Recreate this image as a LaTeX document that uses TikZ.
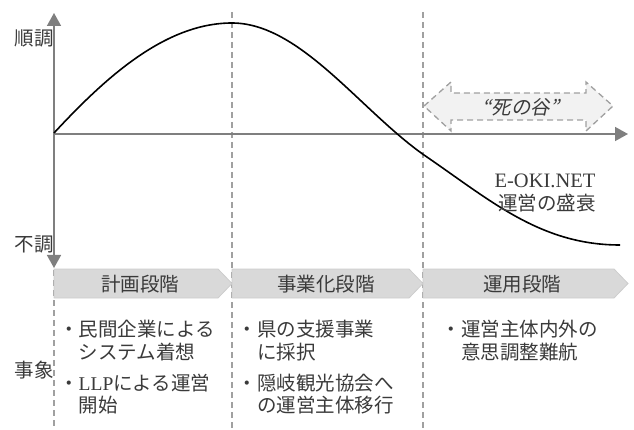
\documentclass[tikz,border=0pt]{standalone}
\usepackage{fontspec}
\setmainfont{Liberation Serif}
\newfontfamily\jp{Noto Sans CJK JP}
\newfontfamily\jpit[FakeSlant=0.2]{Noto Sans CJK JP}
\usetikzlibrary{arrows.meta}
\definecolor{axisgray}{HTML}{7F7F7F}
\definecolor{dashgray}{HTML}{A0A0A0}
\definecolor{bannerfill}{HTML}{D9D9D9}
\definecolor{bannerdraw}{HTML}{CDCDCD}
\definecolor{valleyfill}{HTML}{F2F2F2}
\definecolor{txt}{HTML}{3A3A3A}
\newcommand{\bulletmark}{\makebox[19.5pt][c]{・}}
\newcommand{\bulletindent}{\hspace*{19.5pt}}
\begin{document}
\begin{tikzpicture}[x=1pt,y=-1pt,
  >={Triangle[length=13pt,width=14pt]},
  axisline/.style={draw=axisgray,line width=1.6pt},
  phaseline/.style={draw=dashgray,line width=1.3pt,dash pattern=on 6pt off 4pt},
  banner/.style={fill=bannerfill,draw=bannerdraw,line width=0.8pt},
  valley/.style={fill=valleyfill,draw=dashgray,line width=1.3pt,dash pattern=on 6pt off 4pt},
  lbl/.style={inner sep=0pt,text=txt,font=\jp\fontsize{19.5}{23}\selectfont},
  bul/.style={inner sep=0pt,text=txt,anchor=west,align=left,font=\jp\fontsize{19.5}{22.5}\selectfont}]
\useasboundingbox (0,0) rectangle (634,430);
% phase separators
\draw[phaseline] (232,12) -- (232,430);
\draw[phaseline] (423,12) -- (423,430);
\draw[phaseline] (54,270) -- (54,430);
% axes
\coordinate (ytop) at (54,13);
\coordinate (ybot) at (54,268);
\coordinate (origin) at (54,134);
\coordinate (xend) at (628,134);
\draw[axisline,<->] (ybot) -- (ytop);
\draw[axisline,->] (origin) -- (xend);
% valley of death arrow
\path[valley] (424,106) -- (451,82) -- (451,93) -- (586,93) -- (586,82) -- (613,106)
  -- (586,131) -- (586,120) -- (451,120) -- (451,131) -- cycle;
\node[lbl,font=\jpit\fontsize{19.5}{23}\selectfont] (valleytxt) at (521,107) {“死の谷”};
% curve
\draw[line width=1.6pt,black] (54,133) .. controls (105,78) and (165,23) .. (232,23)
  .. controls (300,23) and (360,110) .. (424,155)
  .. controls (490,200) and (540,245) .. (620,245);
% banners
\path[banner] (54,269) -- (218,269) -- (232,283.5) -- (218,298) -- (54,298) -- cycle;
\path[banner] (232,269) -- (409,269) -- (423,283.5) -- (409,298) -- (232,298) -- cycle;
\path[banner] (423,269) -- (614,269) -- (628,283.5) -- (614,298) -- (423,298) -- cycle;
\node[lbl] (p1) at (140,284) {計画段階};
\node[lbl] (p2) at (326,284) {事業化段階};
\node[lbl] (p3) at (522,284) {運用段階};
% axis labels
\node[lbl,anchor=east] (good) at (54,38) {順調};
\node[lbl,anchor=east] (bad) at (54,244) {不調};
\node[lbl,anchor=east] (event) at (54,370) {事象};
% E-OKI.NET
\node[lbl,font=\fontsize{20.5}{23}\selectfont] (eoki) at (545,181) {E-OKI.NET};
\node[lbl] (eoki2) at (547,203) {運営の盛衰};
% events column 1
\node[bul] (e11) at (59,340.5) {\bulletmark 民間企業による\\\bulletindent システム着想};
\node[bul] (e12) at (59,394) {\bulletmark{\rmfamily LLP}による運営\\\bulletindent 開始};
% events column 2
\node[bul] (e21) at (237.5,340.5) {\bulletmark 県の支援事業\\\bulletindent に採択};
\node[bul] (e22) at (237.5,394) {\bulletmark 隠岐観光協会へ\\\bulletindent の運営主体移行};
% events column 3
\node[bul] (e31) at (441.5,340.5) {\bulletmark 運営主体内外の\\\bulletindent 意思調整難航};
\end{tikzpicture}
\end{document}
